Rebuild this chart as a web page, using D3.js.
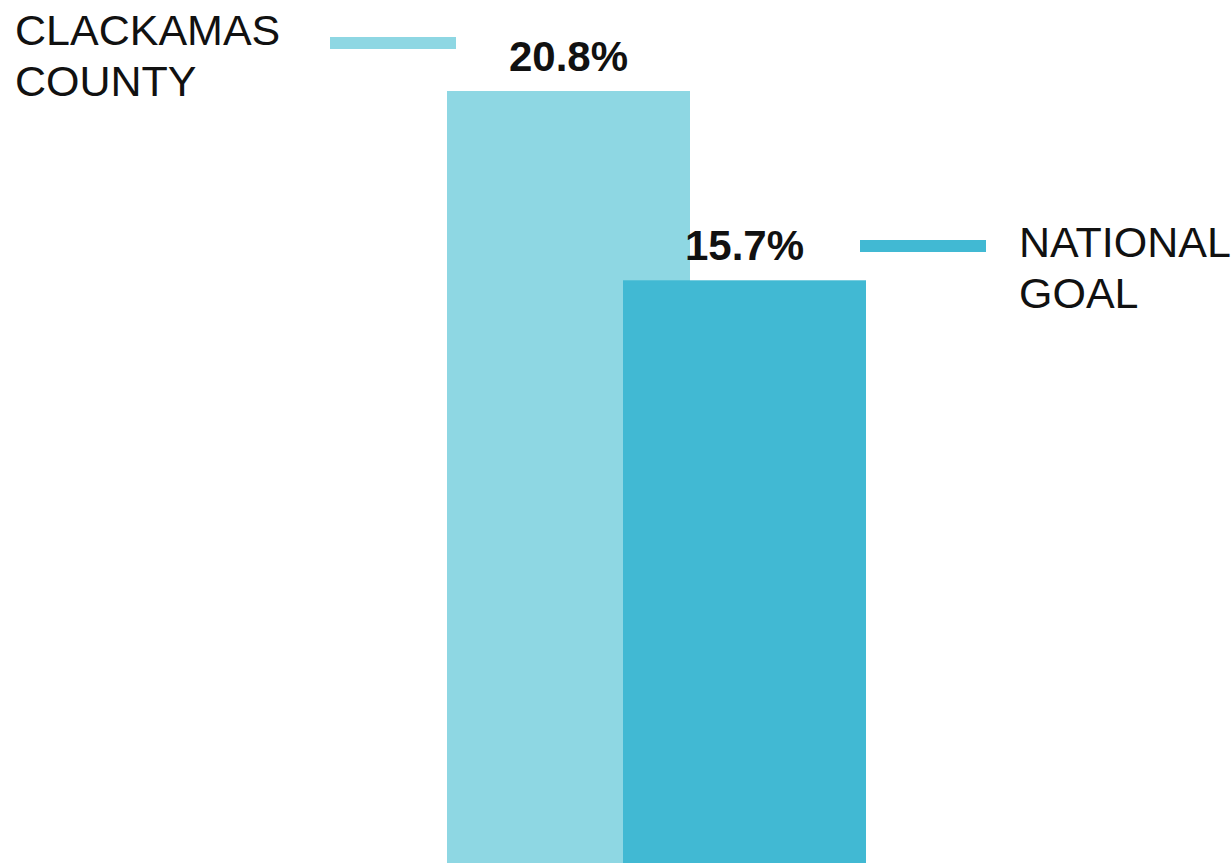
<!DOCTYPE html>
<html>
<head>
<meta charset="utf-8">
<script src="https://cdn.jsdelivr.net/npm/d3@7"></script>
<style>
  html, body { margin: 0; padding: 0; background: #fff; }
  svg { display: block; }
  .legend-label { font-family: "Liberation Sans", sans-serif; font-size: 43px; fill: #111; }
  .value-label { font-family: "Liberation Sans", sans-serif; font-weight: bold; font-size: 42px; fill: #111; text-anchor: middle; }
</style>
</head>
<body>
<div id="chart"></div>
<script>
// chart data
var categories = ['CLACKAMAS COUNTY', 'NATIONAL GOAL'];
var values = [20.8, 15.7];
var valueLabels = ['20.8%', '15.7%'];
var colors = ['#8ed7e3', '#41b9d3'];

var width = 1232, height = 863;

var svg = d3.select('#chart').append('svg')
  .attr('width', width)
  .attr('height', height);

// bars overlap: each step is narrower than the bar
var x = d3.scaleBand()
  .domain(categories)
  .range([447, 447 + 176 * 2])
  .paddingInner(0)
  .paddingOuter(0);
var barWidth = 243;

var y = d3.scaleLinear()
  .domain([0, d3.max(values)])
  .range([863, 91]);

var bars = svg.append('g');
bars.selectAll('rect')
  .data(categories)
  .enter()
  .append('rect')
    .attr('x', function(d) { return x(d); })
    .attr('y', function(d, i) { return y(values[i]); })
    .attr('width', barWidth)
    .attr('height', function(d, i) { return y(0) - y(values[i]); })
    .attr('fill', function(d, i) { return colors[i]; });

// value labels
svg.selectAll('.value-label')
  .data(categories)
  .enter()
  .append('text')
    .attr('class', 'value-label')
    .attr('x', function(d) { return x(d) + barWidth / 2; })
    .attr('y', function(d, i) { return y(values[i]) - 20; })
    .text(function(d, i) { return valueLabels[i]; });

// legend entries: line swatch + two-line label
var legendPos = [
  {lineX: 330, lineY: 43, textX: 15, textY: 45},
  {lineX: 860, lineY: 246, textX: 1019, textY: 257}
];

var legend = svg.selectAll('.legend')
  .data(categories)
  .enter()
  .append('g')
    .attr('class', 'legend');

legend.append('line')
  .attr('x1', function(d, i) { return legendPos[i].lineX; })
  .attr('x2', function(d, i) { return legendPos[i].lineX + 126; })
  .attr('y1', function(d, i) { return legendPos[i].lineY; })
  .attr('y2', function(d, i) { return legendPos[i].lineY; })
  .attr('stroke', function(d, i) { return colors[i]; })
  .attr('stroke-width', 12);

var labels = legend.append('text')
  .attr('class', 'legend-label')
  .attr('x', function(d, i) { return legendPos[i].textX; })
  .attr('y', function(d, i) { return legendPos[i].textY; });

labels.selectAll('tspan')
  .data(function(d) { return d.split(' '); })
  .enter()
  .append('tspan')
    .attr('x', function() { return d3.select(this.parentNode).attr('x'); })
    .attr('dy', function(d, i) { return i == 0 ? 0 : 51; })
    .text(function(d) { return d; });
</script>
</body>
</html>
